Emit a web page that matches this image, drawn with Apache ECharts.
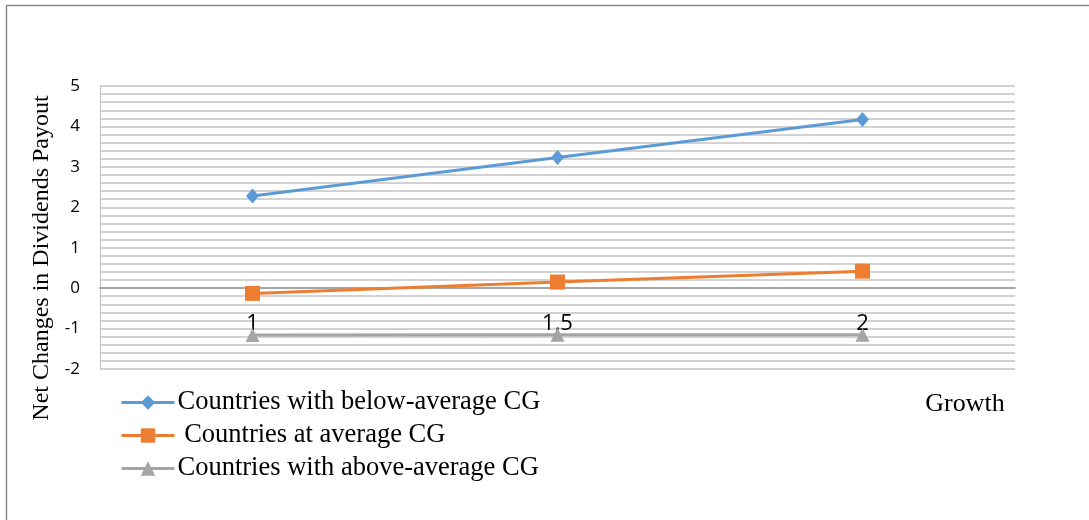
<!DOCTYPE html>
<html>
<head>
<meta charset="utf-8">
<script src="https://cdn.jsdelivr.net/npm/echarts@6/dist/echarts.min.js"></script>
<style>
  html, body { margin: 0; padding: 0; background: #fff; }
  #chart { width: 1089px; height: 520px; }
</style>
</head>
<body>
<div id="chart"></div>
<script>
// Growth levels on the category axis
const categories = ['1', '1,5', '2'];

// Net changes in dividends payout per country group
const belowAverageCG = [2.28, 3.23, 4.17];
const averageCG = [-0.13, 0.15, 0.42];
const aboveAverageCG = [-1.16, -1.15, -1.15];

const seriesNames = [
  'Countries with below-average CG',
  'Countries at average CG',
  'Countries with above-average CG'
];

const yTicks = { min: -2, max: 5, interval: 1 };

const gridBox = { left: 100, right: 74, top: 86, bottom: 151 };
const plotHeight = 520 - gridBox.top - gridBox.bottom;
// lift the category axis from the bottom edge up to the zero line
const zeroOffset = -plotHeight * (0 - yTicks.min) / (yTicks.max - yTicks.min);

const chart = echarts.init(document.getElementById('chart'), null, { renderer: 'canvas' });

const serif = '"Liberation Serif", "Times New Roman", serif';
const sans = '"Open Sans", "Liberation Sans", sans-serif';

function lineSeries(name, data, color, symbol, size) {
  return {
    name: name,
    type: 'line',
    data: data,
    symbol: symbol,
    symbolSize: size,
    showSymbol: true,
    lineStyle: { color: color, width: 3 },
    itemStyle: { color: color },
    z: 3
  };
}

chart.setOption({
  animation: false,
  backgroundColor: '#ffffff',
  grid: gridBox,
  xAxis: {
    type: 'category',
    data: categories,
    boundaryGap: true,
    position: 'bottom',
    offset: zeroOffset,
    axisLine: { show: true, onZero: false, lineStyle: { color: '#a6a6a6', width: 2 } },
    axisTick: { show: false },
    axisLabel: {
      color: '#000',
      fontFamily: sans,
      fontSize: 22,
      margin: 25
    },
    splitLine: { show: false }
  },
  yAxis: {
    type: 'value',
    min: yTicks.min,
    max: yTicks.max,
    interval: yTicks.interval,
    axisLine: { show: true, lineStyle: { color: '#bfbfbf', width: 1 } },
    axisTick: { show: false },
    axisLabel: {
      color: '#000',
      fontFamily: sans,
      fontSize: 17,
      margin: 20
    },
    splitLine: { show: true, lineStyle: { color: '#d2d2d2', width: 2 } },
    minorTick: { show: false, splitNumber: 5 },
    minorSplitLine: { show: true, lineStyle: { color: '#d2d2d2', width: 2 } }
  },
  legend: {
    orient: 'vertical',
    left: 120,
    top: 389,
    padding: 0,
    itemWidth: 53,
    itemHeight: 18,
    itemGap: 6,
    lineStyle: { width: 3 },
    textStyle: { fontFamily: serif, fontSize: 26.5, color: '#000', padding: [0, 0, 0, -2] },
    formatter: function (name) {
      return name === seriesNames[1] ? ' ' + name : name;
    },
    data: seriesNames
  },
  series: [
    lineSeries(seriesNames[0], belowAverageCG, '#5B9BD5', 'diamond', [13, 15]),
    lineSeries(seriesNames[1], averageCG, '#ED7D31', 'rect', 15),
    lineSeries(seriesNames[2], aboveAverageCG, '#A5A5A5', 'triangle', 14)
  ],
  graphic: [
    {
      type: 'line',
      shape: { x1: 6, y1: 5.5, x2: 1089, y2: 5.5 },
      style: { stroke: '#8c8c8c', lineWidth: 1.5 }
    },
    {
      type: 'line',
      shape: { x1: 6.5, y1: 5, x2: 6.5, y2: 520 },
      style: { stroke: '#8c8c8c', lineWidth: 1.5 }
    },
    {
      type: 'text',
      x: 42,
      y: 258,
      rotation: Math.PI / 2,
      style: {
        text: 'Net Changes in Dividends Payout',
        font: '24px ' + serif,
        fill: '#000',
        align: 'center',
        verticalAlign: 'middle'
      }
    },
    {
      type: 'text',
      x: 965,
      y: 404,
      style: {
        text: 'Growth',
        font: '26px ' + serif,
        fill: '#000',
        align: 'center',
        verticalAlign: 'middle'
      }
    }
  ]
});
</script>
</body>
</html>
